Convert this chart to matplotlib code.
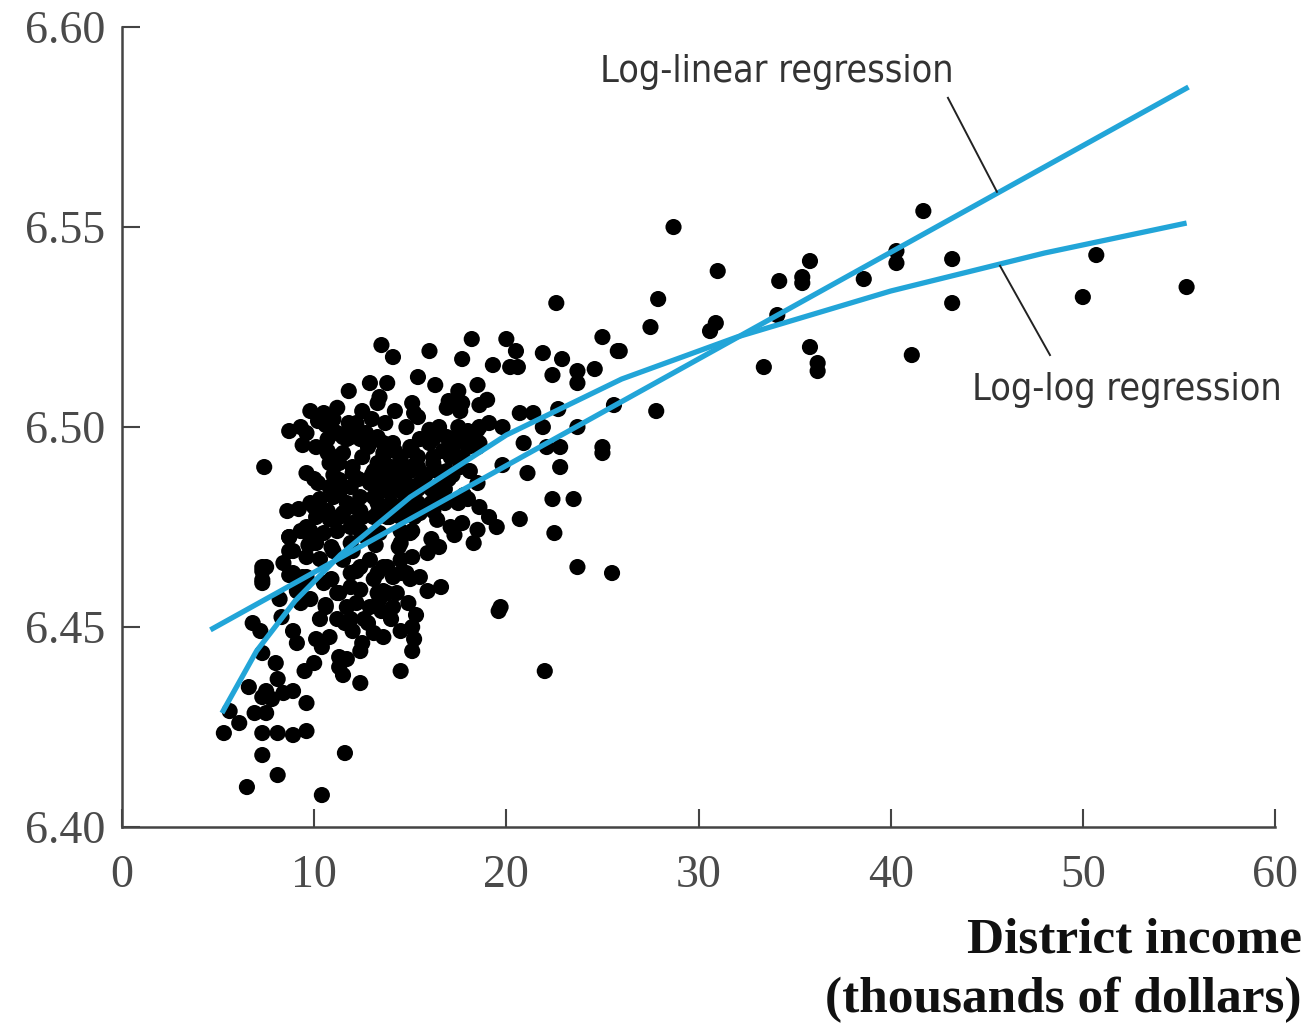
import matplotlib
matplotlib.use('Agg')
import matplotlib.pyplot as plt

# district income (thousands of dollars) vs ln(test score)
income = [
    # sparse right part
    28.7, 31.0, 27.9, 27.5, 30.9, 30.6, 25.9, 35.8, 34.2, 35.4, 35.4, 34.1, 35.8, 36.2, 36.2,
    33.4, 38.6, 40.3, 40.3, 41.7, 43.2, 43.2, 41.1, 50.7, 50.0, 55.4, 27.8,
    # middle
    22.6, 16.0, 18.2, 17.7, 20.0, 20.5, 19.3, 20.2, 20.6, 21.9, 22.9, 22.4, 23.7, 23.7, 24.6,
    25.0, 25.8, 15.4, 16.3, 17.5, 18.5, 25.6, 22.7, 23.7, 21.9, 20.7, 21.4, 25.0, 25.0, 22.8,
    22.1, 20.9, 22.8, 21.1, 19.8, 22.4, 23.5, 20.7, 22.5, 23.7, 25.5, 19.6, 22.0,
    # lower left
    5.3, 6.1, 5.6, 6.5, 7.3, 8.1, 10.4, 11.6, 7.3, 8.1, 8.9, 9.6, 6.9, 9.6, 7.5, 7.8, 8.4, 7.5,
    8.9, 8.1, 7.3, 6.6, 7.3, 8.0, 9.5, 10.0, 11.3, 11.5, 12.4, 14.5, 10.4, 7.3, 7.3, 6.8, 7.2,
    8.2, 9.1, 8.7, 9.4, 8.3, 8.9, 9.1, 11.3, 11.7, 11.9, 11.2, 10.8, 10.1, 12.2, 13.1, 13.8,
    14.5, 15.0, 13.4, 14.1, 13.8, 13.1, 13.6, 14.5, 15.1, 12.5, 12.4, 15.1, 11.3, 11.7, 15.2,
    9.8, 10.3, 10.6, 12.0, 12.6, 10.9, 12.9,
    # upper left cluster
    13.5, 14.1, 12.9, 13.8, 11.8, 13.4, 13.3, 12.5, 14.2, 9.8, 10.5, 11.2, 11.8, 8.7, 9.3, 9.6,
    10.7, 11.0, 11.7, 12.5, 14.1, 10.7, 11.0, 11.3, 7.4, 9.6, 10.0, 10.2, 11.3, 12.0, 13.1,
    14.0, 15.0, 8.6, 9.8, 10.1, 10.7, 11.0, 11.3, 11.7, 12.4, 13.1, 13.8, 14.5, 15.1, 8.7, 9.3,
    9.8, 10.1, 8.9, 9.6, 10.3, 11.0, 7.5, 8.4, 11.9, 12.7, 13.4, 14.5, 15.1, 13.9, 14.8, 11.9,
    12.4,
    # core
    15.1, 15.2, 16.9, 17.6, 17.7, 18.6, 19.0, 16.0, 16.5, 18.0, 18.6, 19.1, 11.5, 11.9, 12.4,
    12.7, 13.3, 13.6, 15.0, 15.5, 16.2, 16.9, 17.2, 18.0, 18.5,
    13.6, 14.5, 15.4, 16.2, 17.1, 17.7,
    13.0, 13.7, 14.3, 15.0, 15.7, 16.4, 17.2,
    13.4, 14.0, 14.7, 15.4, 16.1, 16.8,
    13.3, 14.0, 14.7, 15.4, 16.1, 16.8, 17.5,
    13.1, 13.8, 14.5, 15.2,
    10.6, 11.2, 11.9, 12.5, 12.9, 10.7, 10.8, 11.5, 12.0, 12.5, 13.3, 13.6, 10.8, 11.3, 11.9,
    12.4, 12.9, 13.4, 13.9, 10.3, 10.3, 10.8, 11.5, 12.0, 12.5, 13.3, 13.8, 9.6, 9.8, 10.5,
    11.2, 8.7, 8.7, 7.3, 7.3, 8.9, 9.6, 9.3, 11.5, 11.9, 12.4, 12.9, 13.3, 13.6, 10.5, 11.2,
    11.9, 12.4, 13.3,
    15.1, 16.0, 16.7, 17.4, 18.0, 18.6, 14.5, 15.4, 16.2, 16.9, 17.6, 13.8, 14.6, 15.5, 16.4,
    18.1, 18.5, 18.0, 18.6, 19.1, 19.5, 18.5, 17.7, 17.1, 18.3, 16.2, 16.4, 15.5, 15.0, 14.5,
    16.5, 15.9, 15.1, 14.5, 14.1, 14.8, 15.5, 13.6, 14.3, 15.9, 19.7,
    15.4, 16.0, 17.5, 18.5, 19.8, 17.0,
    # extra fill of the solid core
    10.2, 11.0, 12.2, 13.0, 13.7, 14.8, 9.4, 10.1, 12.8, 14.2, 9.2, 10.0, 12.1, 13.6, 14.9,
    9.7, 10.9, 12.0, 13.2, 14.4, 16.6, 17.8, 9.3, 10.6, 12.2, 13.5, 14.9, 16.1, 17.3, 11.6,
    12.8, 14.0, 15.3, 16.6, 11.0, 12.3, 13.5, 14.7, 15.8, 17.0,
]
ln_score = [
    6.550, 6.539, 6.532, 6.525, 6.526, 6.524, 6.519, 6.5415, 6.5365, 6.5375, 6.536, 6.528, 6.520,
    6.516, 6.514, 6.515, 6.537, 6.544, 6.541, 6.554, 6.542, 6.531, 6.518, 6.543, 6.5325, 6.535,
    6.504,
    6.531, 6.519, 6.522, 6.517, 6.522, 6.519, 6.5155, 6.515, 6.515, 6.5185, 6.517, 6.513, 6.514,
    6.511, 6.5145, 6.5225, 6.519, 6.5125, 6.5105, 6.509, 6.5105, 6.5055, 6.5045, 6.500, 6.500,
    6.5035, 6.5035, 6.495, 6.4935, 6.495, 6.495, 6.496, 6.490, 6.4885, 6.4905, 6.482, 6.482,
    6.477, 6.4735, 6.465, 6.4635, 6.454, 6.439,
    6.4235, 6.426, 6.429, 6.410, 6.418, 6.413, 6.408, 6.4185, 6.4235, 6.4235, 6.423, 6.424,
    6.4285, 6.431, 6.4285, 6.432, 6.4335, 6.434, 6.434, 6.437, 6.4325, 6.435, 6.4435, 6.441,
    6.439, 6.441, 6.440, 6.438, 6.436, 6.439, 6.445, 6.464, 6.461, 6.451, 6.449, 6.457, 6.459,
    6.463, 6.4625, 6.4525, 6.449, 6.446, 6.4585, 6.455, 6.452, 6.452, 6.4475, 6.447, 6.464,
    6.462, 6.465, 6.4635, 6.462, 6.457, 6.455, 6.4585, 6.4485, 6.4475, 6.449, 6.450, 6.446,
    6.444, 6.444, 6.4425, 6.442, 6.447,
    6.457, 6.452, 6.455, 6.449, 6.452, 6.462, 6.455,
    6.5205, 6.5175, 6.511, 6.511, 6.509, 6.5075, 6.506, 6.504, 6.504, 6.504, 6.5035, 6.5048,
    6.501, 6.499, 6.500, 6.4985, 6.497, 6.499, 6.497, 6.497, 6.496, 6.494, 6.4925, 6.491,
    6.490, 6.4885, 6.487, 6.486, 6.4868, 6.4885, 6.489, 6.490, 6.490, 6.479, 6.481, 6.4775,
    6.479, 6.4825, 6.4775, 6.481, 6.479, 6.4825, 6.484, 6.484, 6.485, 6.4725, 6.474, 6.474,
    6.471, 6.469, 6.4675, 6.467, 6.469, 6.465, 6.466, 6.471, 6.4725, 6.4735, 6.474, 6.474,
    6.4775, 6.479, 6.475, 6.474,
    6.506, 6.5035, 6.5048, 6.504, 6.506, 6.5055, 6.5068, 6.499, 6.500, 6.499, 6.500, 6.501,
    6.4975, 6.4975, 6.497, 6.4985, 6.4975, 6.496, 6.495, 6.497, 6.497, 6.4975, 6.495, 6.497,
    6.495,
    6.4925, 6.4925, 6.4925, 6.4925, 6.4925, 6.4925,
    6.488, 6.489, 6.488, 6.489, 6.488, 6.489, 6.488,
    6.4845, 6.4845, 6.4845, 6.4845, 6.4845, 6.4845,
    6.481, 6.481, 6.481, 6.481, 6.481, 6.481, 6.481,
    6.4775, 6.4775, 6.4775, 6.4775,
    6.5005, 6.4985, 6.5005, 6.4985, 6.496, 6.4935, 6.491, 6.4935, 6.490, 6.4925, 6.491, 6.4935,
    6.485, 6.4835, 6.485, 6.4825, 6.486, 6.484, 6.486, 6.482, 6.4785, 6.477, 6.4785, 6.476,
    6.4775, 6.4785, 6.479, 6.475, 6.4725, 6.4735, 6.474, 6.4725, 6.469, 6.465, 6.4618, 6.4635,
    6.4625, 6.460, 6.4668, 6.4635, 6.465, 6.4668, 6.4635, 6.465, 6.461, 6.4585, 6.460, 6.4593,
    6.4585,
    6.494, 6.496, 6.494, 6.497, 6.495, 6.496, 6.491, 6.490, 6.491, 6.489, 6.490, 6.4868, 6.486,
    6.486, 6.485, 6.489, 6.486, 6.482, 6.480, 6.4775, 6.475, 6.4743, 6.476, 6.475, 6.471, 6.479,
    6.4768, 6.4785, 6.4735, 6.471, 6.470, 6.4685, 6.4675, 6.4668, 6.4625, 6.4635, 6.4625,
    6.459, 6.4585, 6.459, 6.455,
    6.5025, 6.4993, 6.500, 6.4993, 6.500, 6.5065,
    6.5015, 6.5020, 6.5010, 6.5020, 6.5010, 6.5000, 6.4955, 6.4950, 6.4950, 6.4940, 6.4795,
    6.4800, 6.4800, 6.4795, 6.4790, 6.4705, 6.4700, 6.4690, 6.4705, 6.4700, 6.4820, 6.4830,
    6.4560, 6.4555, 6.4560, 6.4540, 6.4560, 6.4720, 6.4730, 6.4510, 6.4510, 6.4520, 6.4530,
    6.4600, 6.4880, 6.4870, 6.4880, 6.4875, 6.4880, 6.4870,
]

# fitted curves as drawn
loglin_x = [4.6, 55.5]
loglin_y = [6.4493, 6.585]
loglog_x = [5.2, 7.0, 9.0, 11.35, 15.0, 20.0, 26.0, 32.0, 40.0, 48.0, 55.4]
loglog_y = [6.4285, 6.4440, 6.4565, 6.4680, 6.4825, 6.4980, 6.5120, 6.5225, 6.5340, 6.5435, 6.551]

x_ticks = [0, 10, 20, 30, 40, 50, 60]
y_ticks = [6.40, 6.45, 6.50, 6.55, 6.60]

LINE_BLUE = '#22a5d8'
AXIS_GREY = '#444444'
SERIF = ['Liberation Serif', 'DejaVu Serif']

fig = plt.figure(figsize=(13.12, 10.32), dpi=100)
ax = fig.add_axes([0.093, 0.1986, 0.8788, 0.7752])

ax.scatter(income, ln_score, s=135, color='black', edgecolors='none', zorder=2)
ax.plot(loglin_x, loglin_y, color=LINE_BLUE, lw=3.8, solid_capstyle='butt', zorder=3)
ax.plot(loglog_x, loglog_y, color=LINE_BLUE, lw=3.8, solid_capstyle='butt', zorder=3)

ax.set_xlim(0, 60)
ax.set_ylim(6.40, 6.60)
ax.set_xticks(x_ticks)
ax.set_yticks(y_ticks)
ax.set_xticklabels([str(t) for t in x_ticks])
ax.set_yticklabels([f'{t:.2f}' for t in y_ticks])

for side in ['top', 'right']:
    ax.spines[side].set_visible(False)
for side in ['left', 'bottom']:
    ax.spines[side].set_color(AXIS_GREY)
    ax.spines[side].set_linewidth(1.8)

ax.tick_params(direction='in', length=13, width=1.5, color=AXIS_GREY, labelcolor='#4a4a4a', labelsize=33)
ax.tick_params(axis='x', pad=20)
ax.tick_params(axis='y', pad=12)
for lbl in ax.get_xticklabels() + ax.get_yticklabels():
    lbl.set_fontfamily(SERIF)

# annotations
ax.text(34.1, 6.5888, 'Log-linear regression', family='DejaVu Sans', fontstretch='condensed',
        fontsize=27, color='#333333', ha='center', va='center', clip_on=False)
ax.plot([42.98, 45.53], [6.5823, 6.5588], color='#222222', lw=1.4, clip_on=False, zorder=4)
ax.text(52.3, 6.5093, 'Log-log regression', family='DejaVu Sans', fontstretch='condensed',
        fontsize=27, color='#333333', ha='center', va='center', clip_on=False)
ax.plot([45.69, 48.29], [6.5403, 6.518], color='#222222', lw=1.4, clip_on=False, zorder=4)

fig.text(0.992, 0.089, 'District income', family=SERIF, fontweight='bold', fontsize=37,
         ha='right', va='center', color='#111111')
fig.text(0.992, 0.031, '(thousands of dollars)', family=SERIF, fontweight='bold', fontsize=37,
         ha='right', va='center', color='#111111')

fig.savefig('out.png', dpi=100)
